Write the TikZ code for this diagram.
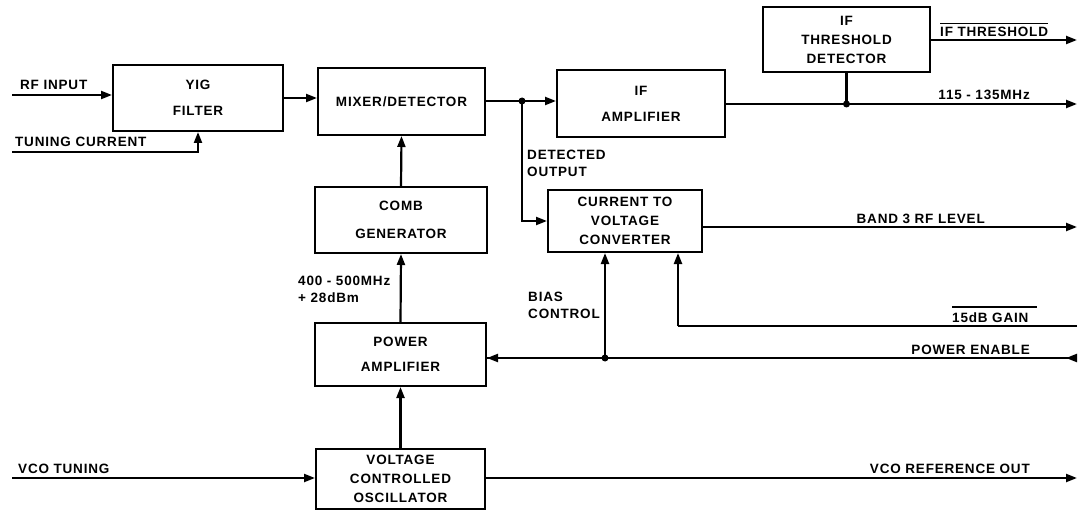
\documentclass[tikz,border=0pt]{standalone}
\usepackage{fontspec}
\setmainfont{Liberation Sans}
\newfontfamily\dfont[LetterSpace=6]{Liberation Sans}
\usetikzlibrary{arrows.meta,calc}
\begin{document}
\begin{tikzpicture}[x=1pt,y=-1pt,
  blk/.style={draw,line width=2pt,inner sep=0pt,align=center,font=\dfont\fontsize{13.5}{19}\selectfont\bfseries},
  lbl/.style={font=\dfont\fontsize{13.5}{17}\selectfont\bfseries,inner sep=0pt,align=left},
  sig/.style={line width=2.2pt},
  arr/.style={sig,-{Triangle[length=11pt,width=8pt]}},
  inarr/.style={sig,-{Triangle[length=11pt,width=8pt,reversed]}},
  jdot/.style={circle,fill,inner sep=0pt,minimum size=7pt}]
\useasboundingbox (0,0) rectangle (1081,513);

% blocks
\node[blk,minimum width=170pt,minimum height=66pt] (yig) at (198,98) {YIG\\[7pt]FILTER};
\node[blk,minimum width=167pt,minimum height=67pt] (mix) at (401.5,101.5) {MIXER/DETECTOR};
\node[blk,minimum width=168pt,minimum height=67pt] (ifa) at (641,103.5) {IF\\[7pt]AMPLIFIER};
\node[blk,minimum width=167pt,minimum height=65pt] (thr) at (846.5,39.5) {IF\\THRESHOLD\\DETECTOR};
\node[blk,minimum width=154pt,minimum height=62pt] (ctv) at (625,221) {CURRENT TO\\VOLTAGE\\CONVERTER};
\node[blk,minimum width=172pt,minimum height=66pt] (comb) at (401,220) {COMB\\[9pt]GENERATOR};
\node[blk,minimum width=171pt,minimum height=63pt] (pa) at (400.5,354.5) {POWER\\[6pt]AMPLIFIER};
\node[blk,minimum width=169pt,minimum height=60pt] (vco) at (400.5,479) {VOLTAGE\\CONTROLLED\\OSCILLATOR};

% coordinates
\coordinate (rfin) at (12,95);
\coordinate (tcin) at (12,152);
\coordinate (vcoin) at (12,478);
\coordinate (vcoout) at (1077,478);
\coordinate (ifout) at (1077,104);
\coordinate (throut) at (1077,40);
\coordinate (b3out) at (1077,227);
\coordinate (gin) at (1077,326);
\coordinate (pein) at (1077,358);
\coordinate (gcol) at (678,326);
\node[jdot] (j1) at (522,101) {};
\node[jdot] (j2) at (846.5,104) {};
\node[jdot] (j3) at (605,358) {};

% connectors
\draw[arr] (rfin) -- (rfin -| yig.west);
\draw[arr] (tcin) -| (yig.south);
\draw[arr] (yig.east |- 0,98) -- (mix.west |- 0,98);
\draw[arr] (mix.east |- j1) -- (ifa.west |- j1);
\draw[arr] (j1.center) |- (ctv.west);
\draw[arr] (comb.north) -- (mix.south);
\draw[arr] (pa.north) -- (comb.south);
\draw[arr] (vco.north) -- (pa.south);
\draw[arr] (vcoin) -- (vcoin -| vco.west);
\draw[arr] (vco.east |- vcoout) -- (vcoout);
\draw[arr] (ifa.east |- ifout) -- (ifout);
\draw[sig] (thr.south) -- (j2.center);
\draw[arr] (thr.east |- throut) -- (throut);
\draw[arr] (ctv.east |- b3out) -- (b3out);
\draw[sig] (gin) -- (gcol);
\draw[arr] (gcol) -- (gcol |- ctv.south);
\draw[inarr] (pa.east |- pein) -- (pein);
\draw[arr] (j3.center) -- (pa.east |- pein);
\draw[arr] (j3.center) -- (j3 |- ctv.south);

% labels
\node[lbl,anchor=base west] (lrf) at (20,90) {RF INPUT};
\node[lbl,anchor=base west] (ltc) at (15,147) {TUNING CURRENT};
\node[lbl,anchor=base west] (lvt) at (18,473) {VCO TUNING};
\node[lbl,anchor=base east] (lvo) at (1030,473) {VCO REFERENCE OUT};
\node[lbl,anchor=base west] (ldet) at (527,177) {DETECTED\\OUTPUT};
\node[lbl,anchor=base west] (lfreq) at (298,302) {400 - 500MHz\\+ 28dBm};
\node[lbl,anchor=base west] (lbias) at (528,318) {BIAS\\CONTROL};
\node[lbl,anchor=base east] (lifb) at (1030,100) {115 - 135MHz};
\node[lbl,anchor=base west] (lthr) at (940,37) {IF THRESHOLD};
\node[lbl,anchor=base east] (lb3) at (985,223) {BAND 3 RF LEVEL};
\node[lbl,anchor=base west] (lg) at (952,322) {15dB GAIN};
\node[lbl,anchor=base east] (lpe) at (1030,354) {POWER ENABLE};
\draw[line width=1.6pt] ([yshift=4pt]lthr.north west) -- ([yshift=4pt]lthr.north east);
\draw[line width=1.6pt] ([yshift=5pt]lg.north west) -- ([yshift=5pt,xshift=8pt]lg.north east);
\end{tikzpicture}
\end{document}
